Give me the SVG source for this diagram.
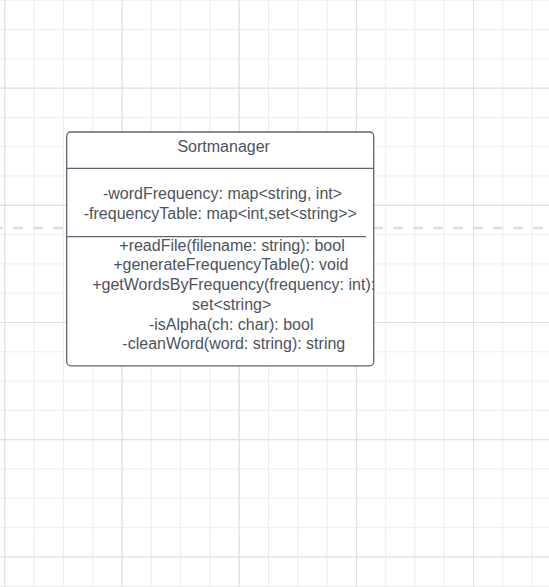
<svg xmlns="http://www.w3.org/2000/svg" width="549" height="587" viewBox="0 0 549 587">
<defs>
<pattern id="minor" x="4.3" y="-0.3" width="29.3" height="29.3" patternUnits="userSpaceOnUse">
<path d="M0.5 0 V29.3 M0 0.5 H29.3" fill="none" stroke="#ececec" stroke-width="1"/>
</pattern>
<pattern id="major" x="4.3" y="-29.6" width="117.2" height="117.2" patternUnits="userSpaceOnUse">
<path d="M0.5 0 V117.2 M0 0.5 H117.2" fill="none" stroke="#dedede" stroke-width="1"/>
</pattern>
</defs>
<style>
.t{font-family:"Liberation Sans",Arial,sans-serif;font-size:16px;fill:#4d535c;text-anchor:middle}
.box{fill:#ffffff;stroke:#5e6570;stroke-width:1.3}
.div{stroke:#5e6570;stroke-width:1.2}
</style>
<rect width="549" height="587" fill="#ffffff"/>
<rect width="549" height="587" fill="url(#minor)"/>
<rect width="549" height="587" fill="url(#major)"/>
<g id="guides">
<line x1="-6.7" y1="228" x2="549" y2="228" stroke="#dcdcdc" stroke-width="2.7" stroke-dasharray="9.5 10.5"/>
</g>
<g id="connectors"></g>
<g id="Sortmanager">
<rect class="box" x="66.7" y="132" width="307" height="233.8" rx="4"/>
<line class="div" x1="66.7" y1="168.3" x2="373.7" y2="168.3"/>
<line class="div" x1="66.7" y1="236.7" x2="366" y2="236.7"/>
<text class="t" x="223.7" y="151.5">Sortmanager</text>
<text class="t" x="222.5" y="199">-wordFrequency: map&lt;string, int&gt;</text>
<text class="t" x="220.3" y="218.5">-frequencyTable: map&lt;int,set&lt;string&gt;&gt;</text>
<text class="t" x="232" y="250.7">+readFile(filename: string): bool</text>
<text class="t" x="230.8" y="270.4">+generateFrequencyTable(): void</text>
<text class="t" x="233.7" y="290.1">+getWordsByFrequency(frequency: int):</text>
<text class="t" x="231.7" y="309.8">set&lt;string&gt;</text>
<text class="t" x="231.2" y="329.5">-isAlpha(ch: char): bool</text>
<text class="t" x="233.8" y="349.2">-cleanWord(word: string): string</text>
</g>
</svg>
